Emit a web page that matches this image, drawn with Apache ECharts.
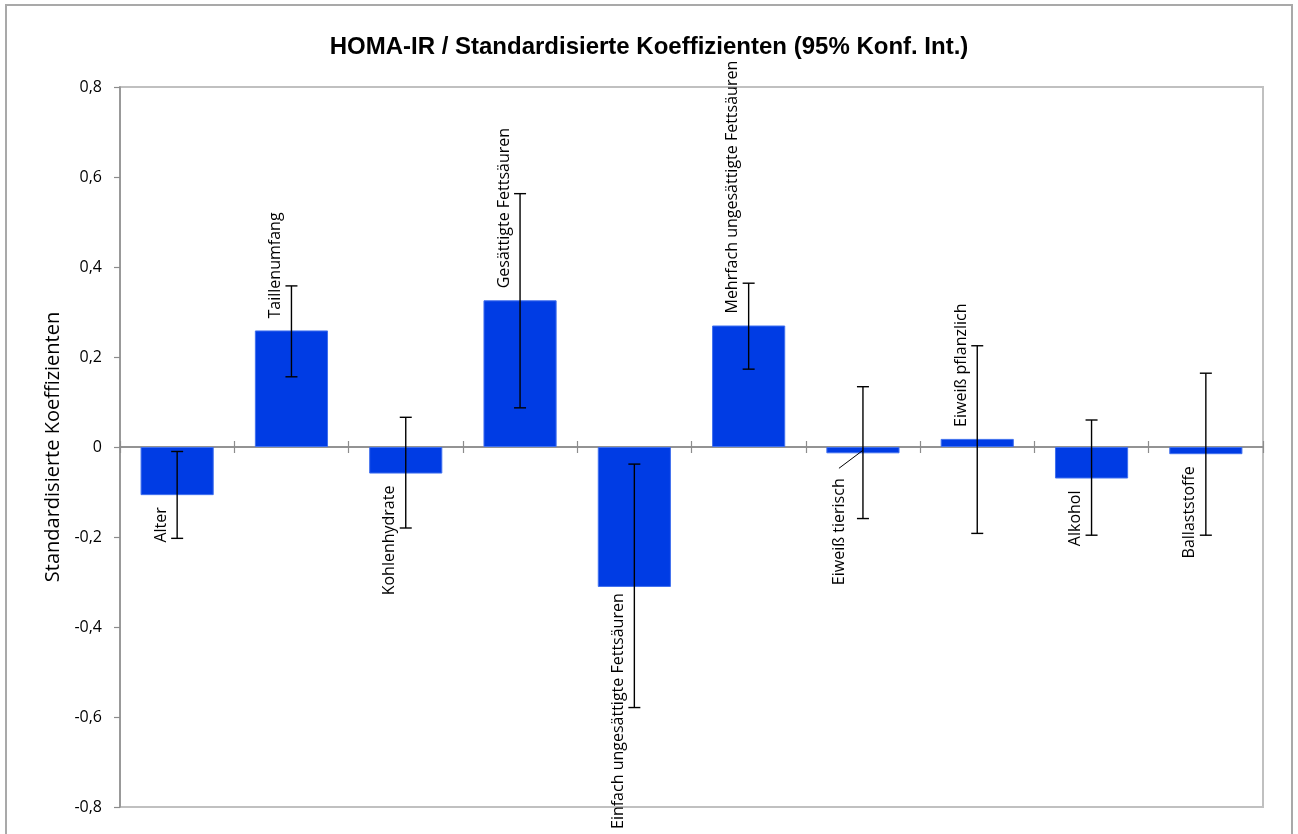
<!DOCTYPE html>
<html>
<head>
<meta charset="utf-8">
<script src="https://cdn.jsdelivr.net/npm/echarts@6/dist/echarts.min.js"></script>
<style>
  html, body { margin: 0; padding: 0; background: #ffffff; }
  #chart { width: 1298px; height: 834px; }
</style>
</head>
<body>
<div id="chart"></div>
<script>
// Standardised regression coefficients for HOMA-IR with 95% confidence intervals
const categories = [
  'Alter', 'Taillenumfang', 'Kohlenhydrate', 'Gesättigte Fettsäuren',
  'Einfach ungesättigte Fettsäuren', 'Mehrfach ungesättigte Fettsäuren',
  'Eiweiß tierisch', 'Eiweiß pflanzlich', 'Alkohol', 'Ballaststoffe'
];
const coefficients = [-0.107, 0.259, -0.059, 0.326, -0.311, 0.270, -0.014, 0.018, -0.070, -0.016];
const ciLower      = [-0.203, 0.156, -0.180, 0.087, -0.579, 0.173, -0.159, -0.192, -0.196, -0.196];
const ciUpper      = [-0.010, 0.358, 0.066, 0.563, -0.038, 0.364, 0.134, 0.225, 0.060, 0.164];
const yTicks = { min: -0.8, max: 0.8, step: 0.2 };

// Screen-space shifts for labels that were moved off their default spot
const labelNudge = {
  'Eiweiß tierisch': { sx: -8, sy: 13 }
};
const LABEL_SHIFT_X = -16;
const LABEL_DISTANCE = 12;

const chartDom = document.getElementById('chart');
const chart = echarts.init(chartDom, null, { renderer: 'canvas' });
const H = 834;

const barData = coefficients.map(function (v, i) {
  const up = v >= 0;
  return {
    value: v,
    name: categories[i],
    label: {
      position: up ? 'top' : 'bottom',
      align: up ? 'left' : 'right'
    }
  };
});

const errData = coefficients.map(function (v, i) { return [i, ciLower[i], ciUpper[i]]; });

// leader lines for moved labels: [category index, bar value]
const guideData = [];
categories.forEach(function (c, i) {
  if (labelNudge[c]) guideData.push([i, coefficients[i]]);
});

const fmtTick = function (v) {
  if (Math.abs(v) < 1e-9) return '0';
  return v.toFixed(1).replace('.', ',');
};

const axisGrey = '#8c8c8c';
const catAxis = function (pos) {
  return {
    type: 'category',
    data: categories,
    position: pos,
    axisLine: { onZero: true, onZeroAxisIndex: 0, lineStyle: { color: axisGrey, width: 1.5 } },
    axisTick: { show: true, interval: 0, length: 6, lineStyle: { color: axisGrey, width: 1.2 } },
    axisLabel: { show: false },
    splitLine: { show: false }
  };
};

const option = {
  backgroundColor: '#ffffff',
  animation: false,
  title: {
    text: 'HOMA-IR / Standardisierte Koeffizienten (95% Konf. Int.)',
    left: 'center',
    top: 30,
    textStyle: {
      fontFamily: 'Liberation Sans, Arial, sans-serif',
      fontWeight: 'bold',
      fontSize: 24,
      color: '#000000'
    }
  },
  graphic: [{
    type: 'rect',
    silent: true,
    shape: { x: 6, y: 5, width: 1286, height: 900 },
    style: { fill: 'none', stroke: '#a9a9a9', lineWidth: 2 },
    z: 100
  }],
  grid: {
    left: 120, right: 35, top: 87, bottom: 27,
    show: true,
    borderColor: '#c0c0c0',
    borderWidth: 2,
    backgroundColor: 'transparent'
  },
  xAxis: [catAxis('bottom'), catAxis('top')],
  yAxis: {
    type: 'value',
    min: yTicks.min,
    max: yTicks.max,
    interval: yTicks.step,
    name: 'Standardisierte Koeffizienten',
    nameLocation: 'middle',
    nameGap: 57,
    nameTextStyle: {
      fontFamily: 'Open Sans, sans-serif',
      fontSize: 20,
      color: '#000000'
    },
    axisLine: { show: true, lineStyle: { color: axisGrey, width: 1.5 } },
    axisTick: { show: true, length: 6, lineStyle: { color: axisGrey, width: 1.2 } },
    axisLabel: {
      formatter: fmtTick,
      margin: 18,
      fontFamily: 'Open Sans, sans-serif',
      fontSize: 16,
      color: '#000000'
    },
    splitLine: { show: false }
  },
  series: [{
    type: 'bar',
    xAxisIndex: 0,
    data: barData,
    barWidth: '64%',
    itemStyle: { color: '#003ce4', borderColor: '#4070ee', borderWidth: 1 },
    label: {
      show: true,
      formatter: '{b}',
      rotate: 90,
      distance: LABEL_DISTANCE,
      verticalAlign: 'middle',
      fontFamily: 'Open Sans, sans-serif',
      fontSize: 16,
      color: '#000000'
    },
    // dx/dy act in the rotated label frame: screen x follows dy, screen y follows -dx
    labelLayout: function (p) {
      const n = labelNudge[categories[p.dataIndex]] || {};
      const sx = LABEL_SHIFT_X + (n.sx || 0);
      let sy = n.sy || 0;
      const bottom = p.labelRect.y + p.labelRect.height + sy;
      if (bottom > H - 5) sy -= bottom - (H - 5);
      return { dx: -sy, dy: sx };
    },
    z: 2
  }, {
    type: 'custom',
    xAxisIndex: 0,
    data: errData,
    encode: { x: 0, y: [1, 2] },
    renderItem: function (params, api) {
      const idx = api.value(0);
      const lo = api.coord([idx, api.value(1)]);
      const hi = api.coord([idx, api.value(2)]);
      const cap = 6;
      const st = { stroke: '#000000', lineWidth: 1.4 };
      return {
        type: 'group',
        children: [
          { type: 'line', shape: { x1: hi[0], y1: hi[1], x2: lo[0], y2: lo[1] }, style: st },
          { type: 'line', shape: { x1: hi[0] - cap, y1: hi[1], x2: hi[0] + cap, y2: hi[1] }, style: st },
          { type: 'line', shape: { x1: lo[0] - cap, y1: lo[1], x2: lo[0] + cap, y2: lo[1] }, style: st }
        ]
      };
    },
    z: 5
  }, {
    type: 'custom',
    xAxisIndex: 0,
    data: guideData,
    encode: { x: 0, y: 1 },
    renderItem: function (params, api) {
      const idx = api.value(0);
      const end = api.coord([idx, api.value(1)]);
      const n = labelNudge[categories[idx]];
      const down = api.value(1) < 0 ? 1 : -1;
      const lx = end[0] + LABEL_SHIFT_X + n.sx;
      const ly = end[1] + down * (LABEL_DISTANCE + n.sy - 10);
      return {
        type: 'line',
        shape: { x1: end[0], y1: end[1] - down * 3, x2: lx, y2: ly },
        style: { stroke: '#000000', lineWidth: 1 }
      };
    },
    z: 6
  }]
};

chart.setOption(option);
</script>
</body>
</html>
